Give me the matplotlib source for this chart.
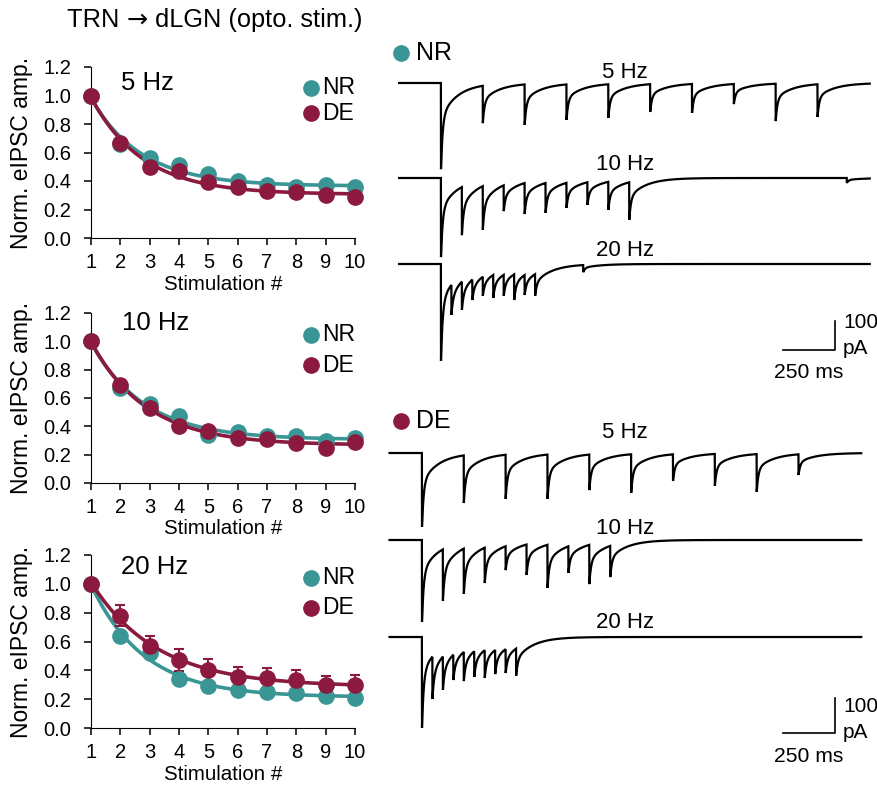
import numpy as np
import matplotlib
matplotlib.use("Agg")
import matplotlib.pyplot as plt

plt.rcParams['font.family'] = ['Liberation Sans', 'DejaVu Sans']

NR_COLOR = '#3a9595'
DE_COLOR = '#8b1a3e'

# ---- summary data (normalised eIPSC amplitude, mean +/- sem) ----
stim_num = np.arange(1, 11)
freq_labels = ['5 Hz', '10 Hz', '20 Hz']

nr_5hz = [1.00, 0.66, 0.56, 0.51, 0.45, 0.40, 0.37, 0.36, 0.37, 0.36]
nr_5hz_err = [0.01, 0.02, 0.02, 0.02, 0.02, 0.02, 0.02, 0.02, 0.02, 0.02]
de_5hz = [1.00, 0.67, 0.50, 0.47, 0.39, 0.36, 0.33, 0.32, 0.30, 0.29]
de_5hz_err = [0.01, 0.02, 0.03, 0.03, 0.03, 0.03, 0.045, 0.03, 0.02, 0.03]

nr_10hz = [1.00, 0.67, 0.56, 0.47, 0.34, 0.36, 0.33, 0.33, 0.30, 0.32]
nr_10hz_err = [0.01, 0.02, 0.02, 0.02, 0.02, 0.02, 0.02, 0.02, 0.02, 0.02]
de_10hz = [1.00, 0.69, 0.53, 0.40, 0.37, 0.32, 0.31, 0.28, 0.25, 0.29]
de_10hz_err = [0.01, 0.02, 0.02, 0.02, 0.02, 0.02, 0.03, 0.03, 0.02, 0.03]

nr_20hz = [1.00, 0.635, 0.52, 0.34, 0.29, 0.265, 0.25, 0.24, 0.225, 0.21]
nr_20hz_err = [0.01, 0.04, 0.03, 0.03, 0.03, 0.03, 0.02, 0.02, 0.02, 0.02]
de_20hz = [1.00, 0.78, 0.57, 0.47, 0.40, 0.355, 0.35, 0.33, 0.30, 0.30]
de_20hz_err = [0.01, 0.07, 0.07, 0.075, 0.08, 0.07, 0.065, 0.07, 0.06, 0.07]

nr_sets = [(nr_5hz, nr_5hz_err), (nr_10hz, nr_10hz_err), (nr_20hz, nr_20hz_err)]
de_sets = [(de_5hz, de_5hz_err), (de_10hz, de_10hz_err), (de_20hz, de_20hz_err)]

# ---- example traces: stimulus times (ms) and peak depth (pA) ----
stim_5hz = [0, 200, 400, 600, 800, 1000, 1200, 1400, 1600, 1800]
stim_10hz = [0, 100, 200, 300, 400, 500, 600, 700, 800, 900]
stim_20hz = [0, 50, 100, 150, 200, 250, 300, 350, 400, 450]
stim_times = [stim_5hz, stim_10hz, stim_20hz]

nr_peak_5hz = [294, 137, 143, 126, 119, 99, 102, 72, 130, 116]
nr_peak_10hz = [270, 195, 177, 113, 123, 119, 102, 92, 109, 143]
nr_peak_20hz = [331, 174, 157, 123, 109, 116, 109, 123, 106, 109]
de_peak_5hz = [211, 143, 131, 131, 106, 114, 80, 94, 111, 63]
de_peak_10hz = [234, 174, 154, 123, 86, 100, 137, 94, 126, 106]
de_peak_20hz = [260, 177, 151, 123, 126, 114, 117, 106, 103, 111]

# spontaneous events (time ms, depth pA)
nr_spont = [[], [(1940, 17)], [(680, 28)]]
de_spont = [[], [], []]

W, H = 878, 785
fig = plt.figure(figsize=(W / 100, H / 100), dpi=100)


def px_rect(x0, y0, x1, y1):
    return [x0 / W, 1 - y1 / H, (x1 - x0) / W, (y1 - y0) / H]


def exp_fit(y):
    y = np.asarray(y, float)
    best = None
    for tau in np.linspace(0.3, 6, 600):
        e = np.exp(-(stim_num - 1) / tau)
        M = np.column_stack([e, np.ones_like(e)])
        coef, *_ = np.linalg.lstsq(M, y, rcond=None)
        err = np.sum((M @ coef - y) ** 2)
        if best is None or err < best[0]:
            best = (err, tau, coef)
    _, tau, (a, c) = best
    xs = np.linspace(1, 10, 200)
    return xs, a * np.exp(-(xs - 1) / tau) + c


# left column: normalised amplitude panels
panel_px = [(91, 67, 355, 238), (91, 313, 355, 483), (91, 555, 355, 728)]
freq_pos = [(121, 83), (122, 323), (121, 567)]
legend_y = [(88, 113), (335, 365), (578, 608)]

for i in range(3):
    x0, y0, x1, y1 = panel_px[i]
    ax = fig.add_axes(px_rect(*panel_px[i]))
    for (vals, errs), color in [(nr_sets[i], NR_COLOR), (de_sets[i], DE_COLOR)]:
        xs, ys = exp_fit(vals)
        ax.plot(xs, ys, color=color, lw=2.6, clip_on=False, zorder=3)
        eb = ax.errorbar(stim_num, vals, yerr=errs, fmt='o', ms=11, color=color,
                         ecolor=color, elinewidth=1.5, capsize=3.5, capthick=1.5, zorder=4)
        for art in eb.lines[0:1] + tuple(eb.lines[1]) + tuple(eb.lines[2]):
            art.set_clip_on(False)
    ax.set_xlim(1, 10)
    ax.set_ylim(0, 1.2)
    ax.set_xticks(stim_num)
    ax.set_yticks(np.arange(0, 1.21, 0.2))
    ax.set_yticklabels([f'{v:.1f}' for v in np.arange(0, 1.21, 0.2)])
    ax.spines['top'].set_visible(False)
    ax.spines['right'].set_visible(False)
    ax.tick_params(direction='out', length=5, width=1.1, labelsize=14.5)
    ax.tick_params(axis='y', pad=9)
    ax.tick_params(axis='x', pad=6)
    ax.set_ylabel('Norm. eIPSC amp.', fontsize=16.5, va='center')
    ax.yaxis.set_label_coords((22 - x0) / (x1 - x0), 0.5)
    ax.set_xlabel('Stimulation #', fontsize=14.8, va='center')
    ax.xaxis.set_label_coords(0.5, -46 / (y1 - y0))
    fx, fy = freq_pos[i]
    ax.text((fx - x0) / (x1 - x0), (y1 - fy) / (y1 - y0), freq_labels[i],
            transform=ax.transAxes, fontsize=18.5, va='center', ha='left')
    for ly, color, lab in zip(legend_y[i], [NR_COLOR, DE_COLOR], ['NR', 'DE']):
        yy = (y1 - ly) / (y1 - y0)
        ax.plot([(311 - x0) / (x1 - x0)], [yy], 'o', ms=11, color=color,
                transform=ax.transAxes, clip_on=False)
        ax.text((322 - x0) / (x1 - x0), yy, lab, transform=ax.transAxes,
                fontsize=16.5, va='center', ha='left')

# title, with the arrow taken from DejaVu Sans
renderer = fig.canvas.get_renderer()
x_cur = 67.0
for part, fam in [('TRN ', 'Liberation Sans'), ('\u2192', 'DejaVu Sans'),
                  (' dLGN (opto. stim.)', 'Liberation Sans')]:
    txt = fig.text(x_cur / W, 1 - 20 / H, part, fontsize=18.3, family=fam,
                   ha='left', va='center')
    x_cur += txt.get_window_extent(renderer).width


# right column: example traces
def build_trace(times, depths, spont, t0, t1, dt=0.5, tau_fast=8.0,
                tau_slow=80.0, slow_frac=0.4):
    t = np.arange(t0, t1, dt)
    out = np.zeros_like(t)
    f = s = 0.0
    df, ds = np.exp(-dt / tau_fast), np.exp(-dt / tau_slow)
    events = sorted(list(zip(times, depths)) + list(spont))
    k = 0
    for j, tj in enumerate(t):
        f *= df
        s *= ds
        while k < len(events) and events[k][0] <= tj:
            a = max(events[k][1] - (f + s), 0.0)
            f += (1 - slow_frac) * a
            s += slow_frac * a
            k += 1
        out[j] = -(f + s)
    return t, out


px_per_ms = 52.3 / 250
groups = [
    dict(name='NR', color=NR_COLOR, peaks=[nr_peak_5hz, nr_peak_10hz, nr_peak_20hz],
         spont=nr_spont, top=40, bottom=390, stim_px=441, px_100pa=29.3,
         base_px=[83, 178, 264], label_px=[72, 165, 250], head=(401, 53),
         span=(-200, 2050), bar=(835, 350)),
    dict(name='DE', color=DE_COLOR, peaks=[de_peak_5hz, de_peak_10hz, de_peak_20hz],
         spont=de_spont, top=400, bottom=785, stim_px=422, px_100pa=35.0,
         base_px=[453, 540, 637], label_px=[433, 529, 623], head=(401, 421),
         span=(-155, 2100), bar=(835, 733)),
]

for g in groups:
    ax = fig.add_axes(px_rect(380, g['top'], 878, g['bottom']))
    pa_per_px = 100.0 / g['px_100pa']
    tx = lambda px: (px - g['stim_px']) / px_per_ms
    ty = lambda py: -(py - g['top']) * pa_per_px
    ax.set_xlim(tx(380), tx(878))
    ax.set_ylim(ty(g['bottom']), ty(g['top']))
    ax.axis('off')
    for k in range(3):
        t, cur = build_trace(stim_times[k], g['peaks'][k], g['spont'][k], *g['span'])
        ax.plot(t, ty(g['base_px'][k]) + cur, color='black', lw=1.6,
                solid_joinstyle='miter')
        ax.text(tx(625), ty(g['label_px'][k]), freq_labels[k], fontsize=16,
                ha='center', va='center')
    hx, hy = g['head']
    ax.plot([tx(hx)], [ty(hy)], 'o', ms=11, color=g['color'], clip_on=False)
    ax.text(tx(416), ty(hy), g['name'], fontsize=18, va='center', ha='left')
    # scale bar
    bx, by = g['bar']
    ax.plot([tx(bx) - 250, tx(bx), tx(bx)], [ty(by), ty(by), ty(by) + 100],
            color='black', lw=1.2)
    ax.text(tx(bx + 8), ty(by - 27), '100', fontsize=15, ha='left', va='center')
    ax.text(tx(bx + 8), ty(by - 1), 'pA', fontsize=15, ha='left', va='center')
    ax.text(tx(bx) - 125, ty(by + 23), '250 ms', fontsize=15.2, ha='center', va='center')

fig.savefig('out.png', dpi=100)
